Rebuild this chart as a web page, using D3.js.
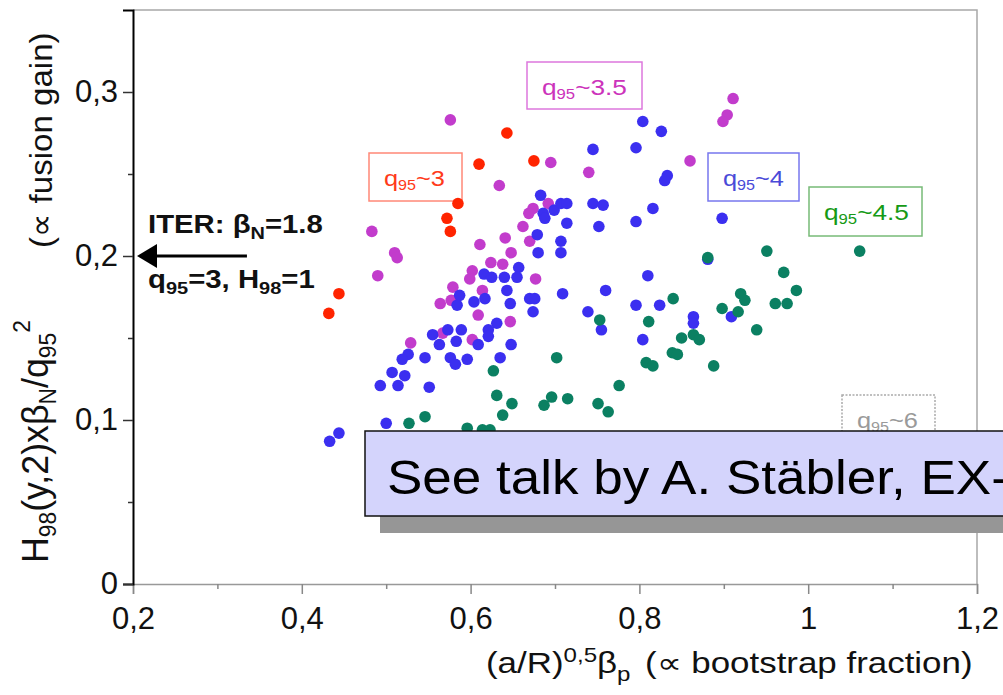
<!DOCTYPE html>
<html>
<head>
<meta charset="utf-8">
<script src="https://cdn.jsdelivr.net/npm/d3@7"></script>
<style>
  body { margin: 0; background: #fff; }
  svg { display: block; font-family: "Liberation Sans", Arial, sans-serif; }
</style>
</head>
<body>
<svg id="chart" width="1003" height="695"></svg>
<script>
// values: [x, y]
const q3 = [
  [0.444, 0.177], [0.432, 0.165], [0.572, 0.223], [0.576, 0.215],
  [0.585, 0.232], [0.610, 0.256], [0.643, 0.275], [0.675, 0.258]
];
const q35 = [
  [0.576, 0.283], [0.695, 0.257], [0.740, 0.251], [0.634, 0.243], [0.692, 0.232],
  [0.674, 0.229], [0.669, 0.226], [0.662, 0.218], [0.670, 0.209], [0.641, 0.211],
  [0.648, 0.202], [0.483, 0.215], [0.510, 0.202], [0.513, 0.199], [0.490, 0.188],
  [0.611, 0.207], [0.624, 0.196], [0.638, 0.195], [0.602, 0.191], [0.599, 0.186],
  [0.677, 0.186], [0.579, 0.181], [0.614, 0.179], [0.564, 0.171], [0.577, 0.173],
  [0.609, 0.164], [0.647, 0.160], [0.529, 0.147], [0.567, 0.153], [0.602, 0.149],
  [0.911, 0.296], [0.904, 0.286], [0.899, 0.282], [0.860, 0.258]
];
const q4 = [
  [0.804, 0.282], [0.826, 0.276], [0.745, 0.265], [0.796, 0.266], [0.833, 0.249],
  [0.830, 0.246], [0.683, 0.237], [0.686, 0.226], [0.688, 0.223], [0.699, 0.228],
  [0.707, 0.232], [0.714, 0.232], [0.745, 0.232], [0.757, 0.231], [0.714, 0.220],
  [0.752, 0.218], [0.816, 0.229], [0.796, 0.221], [0.679, 0.213], [0.707, 0.209],
  [0.707, 0.202], [0.680, 0.202], [0.657, 0.193], [0.655, 0.187], [0.616, 0.189],
  [0.625, 0.187], [0.640, 0.187], [0.643, 0.179], [0.647, 0.171], [0.670, 0.174],
  [0.676, 0.174], [0.674, 0.166], [0.709, 0.177], [0.760, 0.179], [0.810, 0.188],
  [0.796, 0.170], [0.824, 0.170], [0.739, 0.166], [0.755, 0.155], [0.804, 0.149],
  [0.587, 0.176], [0.604, 0.172], [0.617, 0.174], [0.584, 0.170], [0.631, 0.159],
  [0.621, 0.155], [0.621, 0.151], [0.555, 0.152], [0.563, 0.146], [0.573, 0.155],
  [0.589, 0.155], [0.583, 0.148], [0.609, 0.146], [0.648, 0.146], [0.635, 0.138],
  [0.526, 0.140], [0.519, 0.137], [0.546, 0.138], [0.576, 0.138], [0.582, 0.134],
  [0.596, 0.137], [0.507, 0.129], [0.522, 0.127], [0.493, 0.121], [0.514, 0.121],
  [0.551, 0.120], [0.500, 0.098], [0.444, 0.092], [0.433, 0.087], [0.898, 0.223],
  [0.881, 0.198], [0.864, 0.163], [0.864, 0.159], [0.909, 0.163]
];
const q45 = [
  [1.061, 0.203], [0.951, 0.203], [0.971, 0.190], [0.881, 0.199], [0.986, 0.179],
  [0.920, 0.177], [0.925, 0.173], [0.961, 0.171], [0.975, 0.171], [0.840, 0.174],
  [0.898, 0.168], [0.917, 0.166], [0.939, 0.155], [0.850, 0.150], [0.864, 0.152],
  [0.871, 0.149], [0.888, 0.133], [0.839, 0.141], [0.845, 0.140], [0.811, 0.160],
  [0.753, 0.161], [0.808, 0.135], [0.816, 0.133], [0.702, 0.138], [0.776, 0.121],
  [0.751, 0.110], [0.763, 0.105], [0.715, 0.113], [0.687, 0.109], [0.696, 0.114],
  [0.649, 0.110], [0.638, 0.103], [0.627, 0.130], [0.631, 0.115], [0.527, 0.098],
  [0.546, 0.102], [0.596, 0.095], [0.614, 0.094], [0.623, 0.094]
];

const xTicks = [0.2, 0.4, 0.6, 0.8, 1.0, 1.2];
const xTickLabels = ["0,2", "0,4", "0,6", "0,8", "1", "1,2"];
const xMinor = [0.3, 0.5, 0.7, 0.9, 1.1];
const yTicks = [0, 0.1, 0.2, 0.3];
const yTickLabels = ["0", "0,1", "0,2", "0,3"];
const yMinor = [0.05, 0.15, 0.25];

const groups = [
  { name: "3.5", data: q35, color: "#c23ccc", text: "#cc33bb", box: "#dd77dd" },
  { name: "4", data: q4, color: "#3b2ff0", text: "#4a4ad8", box: "#7777ee" },
  { name: "4.5", data: q45, color: "#0b8062", text: "#169a16", box: "#77bb77" },
  { name: "3", data: q3, color: "#ff2400", text: "#ff3a1a", box: "#ff8877" }
];

const width = 1003;
const height = 695;
const margin = { top: 10, right: 26, bottom: 111, left: 133 };

const svg = d3.select("#chart");
svg.append("rect").attr("width", width).attr("height", height).attr("fill", "#fff");

const x = d3.scaleLinear().domain([0.2, 1.2]).range([margin.left, width - margin.right]);
const y = d3.scaleLinear().domain([0, 0.35]).range([height - margin.bottom, margin.top]);

// stretch a text horizontally so that it spans the wanted width
function fitWidth(sel, base, target) {
  const w = sel.node().getBBox().width;
  sel.attr("transform", `${base} scale(${target / w},1)`);
}

// frame (top and right)
svg.append("path")
  .attr("d", `M${x(0.2)},${y(0.35)}H${x(1.2)}V${y(0)}`)
  .attr("fill", "none")
  .attr("stroke", "#a8a8a8")
  .attr("stroke-width", 1.5);

// x axis
const xAxis = g =>
  g.attr("transform", `translate(0,${y(0)})`)
    .call(d3.axisBottom(x).tickValues(xTicks).tickSize(10).tickFormat((d, i) => xTickLabels[i]))
    .call(g => g.select(".domain").attr("stroke", "#999").attr("stroke-width", 1.5))
    .call(g => g.selectAll(".tick line").attr("stroke", "#888").attr("stroke-width", 1.5))
    .call(g => g.selectAll(".tick text")
      .attr("font-size", 31).attr("fill", "#111").attr("y", 23).attr("dy", "0.71em"));

svg.append("g").call(xAxis);
svg.append("g")
  .attr("transform", `translate(0,${y(0)})`)
  .call(d3.axisBottom(x).tickValues(xMinor).tickSize(5).tickFormat(""))
  .call(g => g.select(".domain").remove())
  .call(g => g.selectAll(".tick line").attr("stroke", "#888").attr("stroke-width", 1.5));

// y axis
const yAxis = g =>
  g.attr("transform", `translate(${x(0.2)},0)`)
    .call(d3.axisLeft(y).tickValues(yTicks).tickSize(10).tickFormat((d, i) => yTickLabels[i]))
    .call(g => g.select(".domain").attr("stroke", "#000").attr("stroke-width", 2))
    .call(g => g.selectAll(".tick line").attr("stroke", "#333").attr("stroke-width", 1.5))
    .call(g => g.selectAll(".tick text")
      .attr("font-size", 31).attr("fill", "#111").attr("x", -15));

svg.append("g").call(yAxis);
svg.append("g")
  .attr("transform", `translate(${x(0.2)},0)`)
  .call(d3.axisLeft(y).tickValues(yMinor).tickSize(5).tickFormat(""))
  .call(g => g.select(".domain").remove())
  .call(g => g.selectAll(".tick line").attr("stroke", "#333").attr("stroke-width", 1.5));

// axis titles
const xt = svg.append("text")
  .attr("font-size", 29).attr("fill", "#111");
xt.append("tspan").text("(a/R)");
xt.append("tspan").attr("font-size", 20).attr("dy", -11).text("0,5");
xt.append("tspan").attr("dy", 11).text("β");
xt.append("tspan").attr("font-size", 20).attr("dy", 8).text("p");
xt.append("tspan").attr("dy", -8).attr("dx", 12).text("(∝ bootstrap fraction)");
fitWidth(xt, "translate(486,673)", 487);

const yt = svg.append("text")
  .attr("font-size", 36).attr("fill", "#111");
yt.append("tspan").text("H");
yt.append("tspan").attr("font-size", 23).attr("dy", 8).text("98");
yt.append("tspan").attr("dy", -8).text("(y,2)xβ");
yt.append("tspan").attr("font-size", 23).attr("dy", 8).text("N");
yt.append("tspan").attr("dy", -8).text("/q");
yt.append("tspan").attr("font-size", 23).attr("dy", 8).text("95");
yt.append("tspan").attr("font-size", 23).attr("dy", -26).text("2");
fitWidth(yt, "translate(48,563) rotate(-90)", 243);

const yt2 = svg.append("text")
  .attr("font-size", 32).attr("fill", "#111")
  .text("(∝ fusion gain)");
fitWidth(yt2, "translate(52,248) rotate(-90)", 215);

// q95 label boxes
const labelBoxes = [
  { t: "~3", x0: 369, y0: 153, w: 93, h: 48, tw: 61, g: groups[3] },
  { t: "~3.5", x0: 527, y0: 62, w: 115, h: 47, tw: 85, g: groups[0] },
  { t: "~4", x0: 708, y0: 153, w: 91, h: 48, tw: 61, g: groups[1] },
  { t: "~4.5", x0: 809, y0: 187, w: 113, h: 49, tw: 85, g: groups[2] },
  { t: "~6", x0: 842, y0: 395, w: 93, h: 48, tw: 61, g: { text: "#9a9a9a", box: "#aaaaaa" } }
];

labelBoxes.forEach(b => {
  svg.append("rect")
    .attr("x", b.x0).attr("y", b.y0).attr("width", b.w).attr("height", b.h)
    .attr("fill", "none").attr("stroke", b.g.box).attr("stroke-width", 1.5)
    .attr("stroke-dasharray", b.t === "~6" ? "2,1.5" : null);
  const t = svg.append("text")
    .attr("font-size", 22).attr("fill", b.g.text);
  t.append("tspan").text("q");
  t.append("tspan").attr("font-size", 14).attr("dy", 4).text("95");
  t.append("tspan").attr("dy", -4).text(b.t);
  fitWidth(t, `translate(${b.x0 + 15},${b.y0 + 33})`, b.tw);
});

// points
groups.forEach(grp => {
  svg.append("g")
    .selectAll("circle")
    .data(grp.data)
    .join("circle")
    .attr("cx", d => x(d[0]))
    .attr("cy", d => y(d[1]))
    .attr("r", 5.8)
    .attr("fill", grp.color);
});

// ITER annotation
const iter = svg.append("g").attr("font-weight", "bold").attr("fill", "#111").attr("font-size", 25);
const l1 = iter.append("text");
l1.append("tspan").text("ITER: β");
l1.append("tspan").attr("font-size", 17).attr("dy", 6).text("N");
l1.append("tspan").attr("dy", -6).text("=1.8");
fitWidth(l1, "translate(148,233)", 175);
const l2 = iter.append("text");
l2.append("tspan").text("q");
l2.append("tspan").attr("font-size", 17).attr("dy", 6).text("95");
l2.append("tspan").attr("dy", -6).text("=3, H");
l2.append("tspan").attr("font-size", 17).attr("dy", 6).text("98");
l2.append("tspan").attr("dy", -6).text("=1");
fitWidth(l2, "translate(148,288)", 167);

svg.append("line")
  .attr("x1", 155).attr("x2", x(0.335)).attr("y1", y(0.2)).attr("y2", y(0.2))
  .attr("stroke", "#000").attr("stroke-width", 3);
svg.append("path")
  .attr("d", `M${x(0.2) + 4},${y(0.2)}l20,-12v24z`)
  .attr("fill", "#000");

// talk reference box
svg.append("rect")
  .attr("x", 380).attr("y", 448).attr("width", 640).attr("height", 85)
  .attr("fill", "#969696");
svg.append("rect")
  .attr("x", 365).attr("y", 431).attr("width", 660).attr("height", 85)
  .attr("fill", "#d4d4fc").attr("stroke", "#111").attr("stroke-width", 1.5);
const talk = svg.append("text")
  .attr("font-size", 49).attr("fill", "#000")
  .text("See talk by A. Stäbler, EX-");
fitWidth(talk, "translate(387,494)", 622);
</script>
</body>
</html>
